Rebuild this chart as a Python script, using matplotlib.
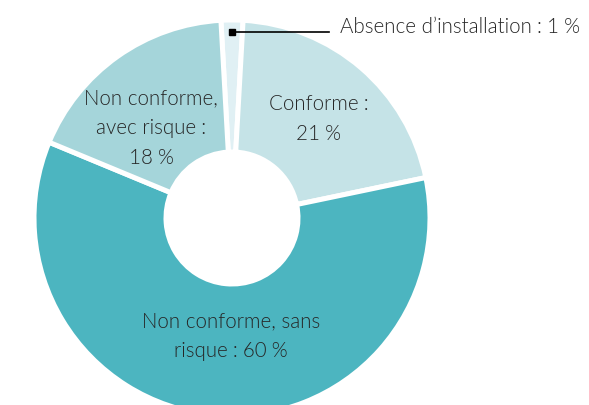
import matplotlib
matplotlib.use("Agg")
import matplotlib.pyplot as plt
from matplotlib import font_manager as fm

# slices, clockwise from the top
labels = ["Absence d\u2019installation", "Conforme", "Non conforme, sans risque", "Non conforme, avec risque"]
values = [1.8, 21, 60, 18]
colors = ["#e0f0f4", "#c5e3e7", "#4cb5c0", "#a5d5da"]

plt.rcParams['font.family'] = ['Lato', 'DejaVu Sans']
TXT = "#262626"
NB = "\u202f"

# Lato Light if it is there, else the regular weight
light = [f.fname for f in fm.fontManager.ttflist if f.fname.endswith("Lato-Light.ttf")]
if light:
    fp = fm.FontProperties(fname=light[0], size=14.8)
else:
    fp = fm.FontProperties(family=["Lato", "DejaVu Sans"], size=14.5)

fig = plt.figure(figsize=(5.89, 4.06), dpi=100)
ax = fig.add_axes([0, 0, 1, 1])
ax.axis("off")

cx, cy, r = 232, 187, 198
start = 90 + values[0] / sum(values) * 360 / 2
ax.pie(values, colors=colors, startangle=start, counterclock=False,
       center=(cx, cy), radius=r,
       wedgeprops=dict(width=r - 66, edgecolor="white", linewidth=3.6))
ax.set_xlim(0, 589)
ax.set_ylim(0, 406)
ax.set_aspect("equal")

kw = dict(ha="center", va="center", fontproperties=fp, color=TXT, linespacing=1.6)
ax.text(319, 406 - 119, f"Conforme{NB}:\n21{NB}%", **kw)
ax.text(151, 406 - 128, f"Non conforme,\navec risque{NB}:\n18{NB}%", **kw)
ax.text(231, 406 - 336, f"Non conforme, sans\nrisque{NB}:{NB}60{NB}%", **kw)

# leader for the tiny slice
ax.plot([232, 329], [373, 373], color="black", lw=1.2)
ax.plot([232], [373], marker="s", ms=4, color="black")
ax.text(340, 406 - 27, f"Absence d\u2019installation{NB}:{NB}1{NB}%",
        ha="left", va="center", fontproperties=fp, color=TXT)

fig.savefig("out.png", dpi=100)
